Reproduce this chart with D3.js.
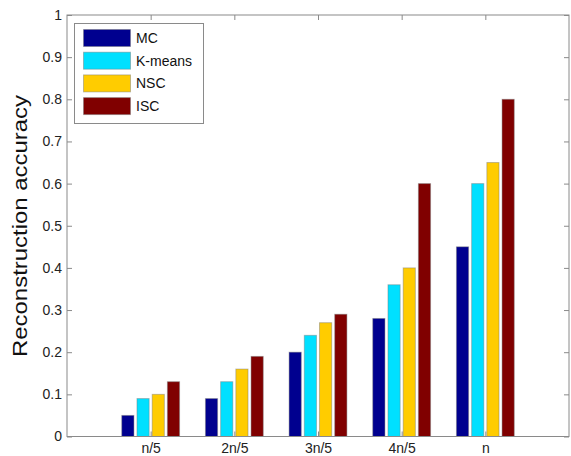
<!DOCTYPE html>
<html>
<head>
<meta charset="utf-8">
<script src="https://cdn.jsdelivr.net/npm/d3@7"></script>
<style>
  html, body { margin: 0; padding: 0; background: #fff; }
  svg { display: block; font-family: Arial, "Liberation Sans", sans-serif; }
</style>
</head>
<body>
<svg id="chart" width="571" height="456"></svg>
<script>
// Group labels along the x axis
const categories = ["n/5", "2n/5", "3n/5", "4n/5", "n"];
// Method names, in legend order
const seriesNames = ["MC", "K-means", "NSC", "ISC"];
// Accuracy per method, one value per group
const mcValues     = [0.05, 0.09, 0.20, 0.28, 0.45];
const kmeansValues = [0.09, 0.13, 0.24, 0.36, 0.60];
const nscValues    = [0.10, 0.16, 0.27, 0.40, 0.65];
const iscValues    = [0.13, 0.19, 0.29, 0.60, 0.80];
const seriesColors = ["#00008f", "#00e0ff", "#ffcc00", "#800000"];
const yTicks = [0, 0.1, 0.2, 0.3, 0.4, 0.5, 0.6, 0.7, 0.8, 0.9, 1];

const seriesValues = [mcValues, kmeansValues, nscValues, iscValues];

const svg = d3.select("#chart");
const plotLeft = 67, plotRight = 569, plotTop = 15, plotBottom = 436.5;

// Group index runs 1..5 on a [0, 6] domain
const x = d3.scaleLinear().domain([0, 6]).range([plotLeft, plotRight]);
const y = d3.scaleLinear().domain([0, 1]).range([plotBottom, plotTop]);

const nSeries = seriesNames.length;
const groupWidth = Math.min(0.8, nSeries / (nSeries + 1.5));
const pitch = groupWidth / nSeries;
const barW = pitch * 0.8;

// Bars
seriesValues.forEach((vals, s) => {
  svg.append("g")
    .selectAll("rect")
    .data(vals)
    .join("rect")
    .attr("x", (d, i) => x(i + 1 - groupWidth / 2 + pitch * s + (pitch - barW) / 2))
    .attr("width", x(barW) - x(0))
    .attr("y", d => y(d))
    .attr("height", d => y(0) - y(d))
    .attr("fill", seriesColors[s])
    .attr("stroke", "rgba(120,120,120,0.45)")
    .attr("stroke-width", 1);
});

// Axes box with inward ticks on all four sides
const axisColor = "#8a8a8a";
const tickLen = 5;
const gAxes = svg.append("g");

gAxes.append("g")
  .attr("transform", `translate(${plotLeft},0)`)
  .call(d3.axisLeft(y).tickValues(yTicks).tickSize(-tickLen).tickPadding(5)
    .tickFormat(d => d === 0 ? "0" : d === 1 ? "1" : d3.format(".1f")(d)))
  .call(g => g.select(".domain").remove())
  .call(g => g.selectAll("line").attr("stroke", axisColor))
  .call(g => g.selectAll("text").attr("font-size", 14).attr("fill", "#222"));

gAxes.append("g")
  .attr("transform", `translate(${plotRight},0)`)
  .call(d3.axisRight(y).tickValues(yTicks).tickSize(-tickLen).tickFormat(""))
  .call(g => g.select(".domain").remove())
  .call(g => g.selectAll("line").attr("stroke", axisColor));

gAxes.append("g")
  .attr("transform", `translate(0,${plotBottom})`)
  .call(d3.axisBottom(x).tickValues(d3.range(1, categories.length + 1)).tickSize(-tickLen).tickPadding(7)
    .tickFormat(d => categories[d - 1]))
  .call(g => g.select(".domain").remove())
  .call(g => g.selectAll("line").attr("stroke", axisColor))
  .call(g => g.selectAll("text").attr("font-size", 14).attr("fill", "#222"));

gAxes.append("g")
  .attr("transform", `translate(0,${plotTop})`)
  .call(d3.axisTop(x).tickValues(d3.range(1, categories.length + 1)).tickSize(-tickLen).tickFormat(""))
  .call(g => g.select(".domain").remove())
  .call(g => g.selectAll("line").attr("stroke", axisColor));

svg.append("rect")
  .attr("x", plotLeft).attr("y", plotTop)
  .attr("width", plotRight - plotLeft).attr("height", plotBottom - plotTop)
  .attr("fill", "none").attr("stroke", axisColor).attr("stroke-width", 1);

// Y axis title
svg.append("text")
  .attr("transform", `translate(27,226) rotate(-90)`)
  .attr("text-anchor", "middle")
  .attr("font-size", 21)
  .attr("textLength", 262)
  .attr("lengthAdjust", "spacingAndGlyphs")
  .attr("fill", "#111")
  .text("Reconstruction accuracy");

// Legend
const legend = svg.append("g");
legend.append("rect")
  .attr("x", 74.5).attr("y", 23.5)
  .attr("width", 129).attr("height", 100)
  .attr("fill", "#fff").attr("stroke", axisColor);

seriesNames.forEach((name, i) => {
  const ry = 29 + i * 22.7;
  legend.append("rect")
    .attr("x", 83.5).attr("y", ry + 0.5)
    .attr("width", 47).attr("height", 17)
    .attr("fill", seriesColors[i])
    .attr("stroke", "rgba(120,120,120,0.45)");
  legend.append("text")
    .attr("x", 136).attr("y", ry + 14)
    .attr("font-size", 14)
    .attr("fill", "#111")
    .text(name);
});
</script>
</body>
</html>
